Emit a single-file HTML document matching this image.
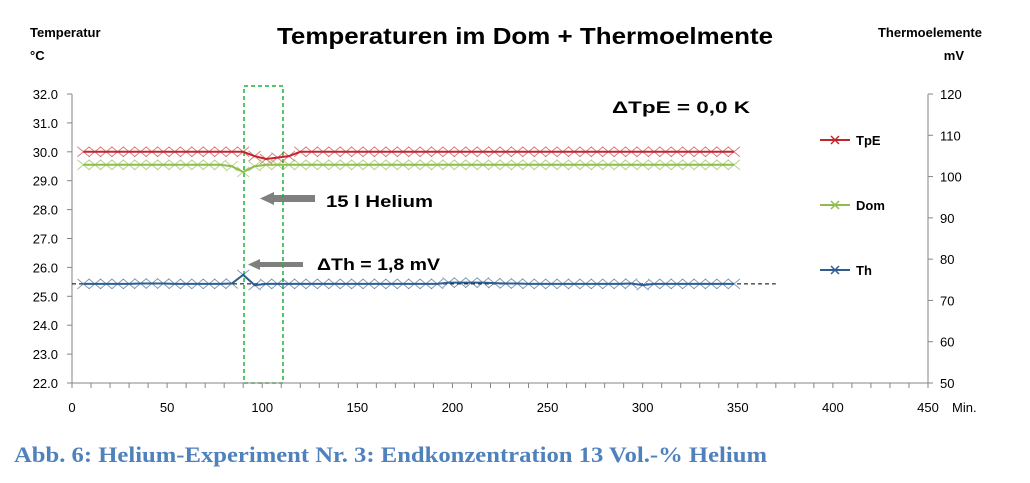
<!DOCTYPE html>
<html><head><meta charset="utf-8"><style>
body{margin:0;background:#fff;width:1030px;height:478px;overflow:hidden;font-family:"Liberation Sans",sans-serif}
</style></head><body>
<svg id="c" width="1030" height="478" xmlns="http://www.w3.org/2000/svg">
<text x="277" y="44" textLength="496" lengthAdjust="spacingAndGlyphs" font-size="23" font-weight="bold" fill="#000">Temperaturen im Dom + Thermoelmente</text>
<text x="30" y="37" font-size="13" font-weight="bold">Temperatur</text>
<text x="30" y="60" font-size="13" font-weight="bold">°C</text>
<text x="982" y="37" text-anchor="end" font-size="13" font-weight="bold">Thermoelemente</text>
<text x="964" y="60" text-anchor="end" font-size="13" font-weight="bold">mV</text>
<text x="612" y="113" textLength="138" lengthAdjust="spacingAndGlyphs" font-size="17" font-weight="bold">ΔTpE = 0,0 K</text>
<text x="326" y="207" textLength="107" lengthAdjust="spacingAndGlyphs" font-size="17" font-weight="bold">15 l Helium</text>
<text x="317" y="270" textLength="123" lengthAdjust="spacingAndGlyphs" font-size="17" font-weight="bold">ΔTh = 1,8 mV</text>
<g><rect x="272" y="195" width="43" height="7" fill="#7f7f7f"/><polygon points="260,198.5 274,192 274,205" fill="#7f7f7f"/></g>
<g><rect x="258" y="262" width="45" height="5" fill="#7f7f7f"/><polygon points="248,264.5 260,259 260,270" fill="#7f7f7f"/></g>
<rect x="244" y="86" width="39" height="297" fill="none" stroke="#1db33a" stroke-width="1.5" stroke-dasharray="4,3"/>
<g id="axes"></g><g id="series"></g>
<text x="14" y="462" textLength="753" lengthAdjust="spacingAndGlyphs" font-family="Liberation Serif,serif" font-size="22" font-weight="bold" fill="#4f81bd">Abb. 6: Helium-Experiment Nr. 3: Endkonzentration 13 Vol.-% Helium</text>
</svg>
<script>
const xs=[6,12,18,24,30,36,42,48,54,60,66,72,78,84,90,96,102,108,114,120,126,132,138,144,150,156,162,168,174,180,186,192,198,204,210,216,222,228,234,240,246,252,258,264,270,276,282,288,294,300,306,312,318,324,330,336,342,348];
const tpe=[30,30,30,30,30,30,30,30,30,30,30,30,30,30,30,29.85,29.75,29.8,29.85,30,30,30,30,30,30,30,30,30,30,30,30,30,30,30,30,30,30,30,30,30,30,30,30,30,30,30,30,30,30,30,30,30,30,30,30,30,30,30];
const dom=[29.55,29.55,29.55,29.55,29.55,29.55,29.55,29.55,29.55,29.55,29.55,29.55,29.55,29.5,29.3,29.5,29.55,29.55,29.55,29.55,29.55,29.55,29.55,29.55,29.55,29.55,29.55,29.55,29.55,29.55,29.55,29.55,29.55,29.55,29.55,29.55,29.55,29.55,29.55,29.55,29.55,29.55,29.55,29.55,29.55,29.55,29.55,29.55,29.55,29.55,29.55,29.55,29.55,29.55,29.55,29.55,29.55,29.55];
const th=[74,74,74,74,74,74.1,74.1,74.1,74,74,74,74,74,74.1,76.2,73.7,74,74,74,74,74,74,74,74,74,74,74,74,74,74,74,74,74.3,74.3,74.3,74.3,74.2,74.1,74.1,74,74,74,74,74,74,74,74,74,74.1,73.7,74,74,74,74,74,74,74,74];
const leftTicks=[22,23,24,25,26,27,28,29,30,31,32];
const rightTicks=[50,60,70,80,90,100,110,120];
const xTicks=[0,50,100,150,200,250,300,350,400,450];
const X=v=>72+v*(856/450), YL=v=>383-(v-22)*28.9, YR=v=>383-(v-50)*(289/70);
const NS='http://www.w3.org/2000/svg';
function mk(p,t,a){const e=document.createElementNS(NS,t);for(const k in a)e.setAttribute(k,a[k]);p.appendChild(e);return e;}
const ax=document.getElementById('axes'),se=document.getElementById('series');
let l=mk(ax,'path',{d:'M72,94V383H928',stroke:'#868686',fill:'none'});


l=mk(ax,'path',{d:'M928,94V383',stroke:'#868686',fill:'none'});


leftTicks.forEach(v=>{mk(ax,'line',{x1:67,x2:72,y1:YL(v),y2:YL(v),stroke:'#868686'});const t=mk(ax,'text',{x:58,y:YL(v)+5,'text-anchor':'end','font-size':13});t.textContent=v.toFixed(1);

});
rightTicks.forEach(v=>{mk(ax,'line',{x1:928,x2:933,y1:YR(v),y2:YR(v),stroke:'#868686'});const t=mk(ax,'text',{x:940,y:YR(v)+5,'font-size':13});t.textContent=v;

});
for(let v=0;v<=450;v+=10)mk(ax,'line',{x1:X(v),x2:X(v),y1:383,y2:388,stroke:'#868686'});
xTicks.forEach(v=>{const t=mk(ax,'text',{x:X(v),y:412,'text-anchor':'middle','font-size':13});t.textContent=v;

});
const u=mk(ax,'text',{x:952,y:412,'font-size':13});u.textContent='Min.';


l=mk(se,'line',{x1:X(0),x2:X(370),y1:YR(74),y2:YR(74),stroke:'#000','stroke-dasharray':'4,3'});


function series(vals,Y,col,name,ly,label){
 const g=mk(se,'g',{});
 
 
 mk(g,'polyline',{points:xs.map((x,i)=>X(x)+','+Y(vals[i])).join(' '),fill:'none',stroke:col,'stroke-width':2});
 xs.forEach((x,i)=>{const px=X(x),py=Y(vals[i]);mk(g,'path',{d:`M${px-6},${py-5}L${px+6},${py+5}M${px-6},${py+5}L${px+6},${py-5}`,stroke:col,'stroke-width':1,opacity:.6});});
 const lg=mk(se,'g',{});
 
 
 mk(lg,'line',{x1:820,x2:850,y1:ly,y2:ly,stroke:col,'stroke-width':2});
 mk(lg,'path',{d:`M831,${ly-4}L839,${ly+4}M831,${ly+4}L839,${ly-4}`,stroke:col,'stroke-width':1.5});
 const t=mk(lg,'text',{x:856,y:ly+5,'font-size':13,'font-weight':'bold'});t.textContent=label;
}
series(tpe,YL,'#c0272d','tpe',140,'TpE');
series(dom,YL,'#8fbc4a','dom',205,'Dom');
series(th,YR,'#2f5d8f','th',270,'Th');
</script>
</body></html>
